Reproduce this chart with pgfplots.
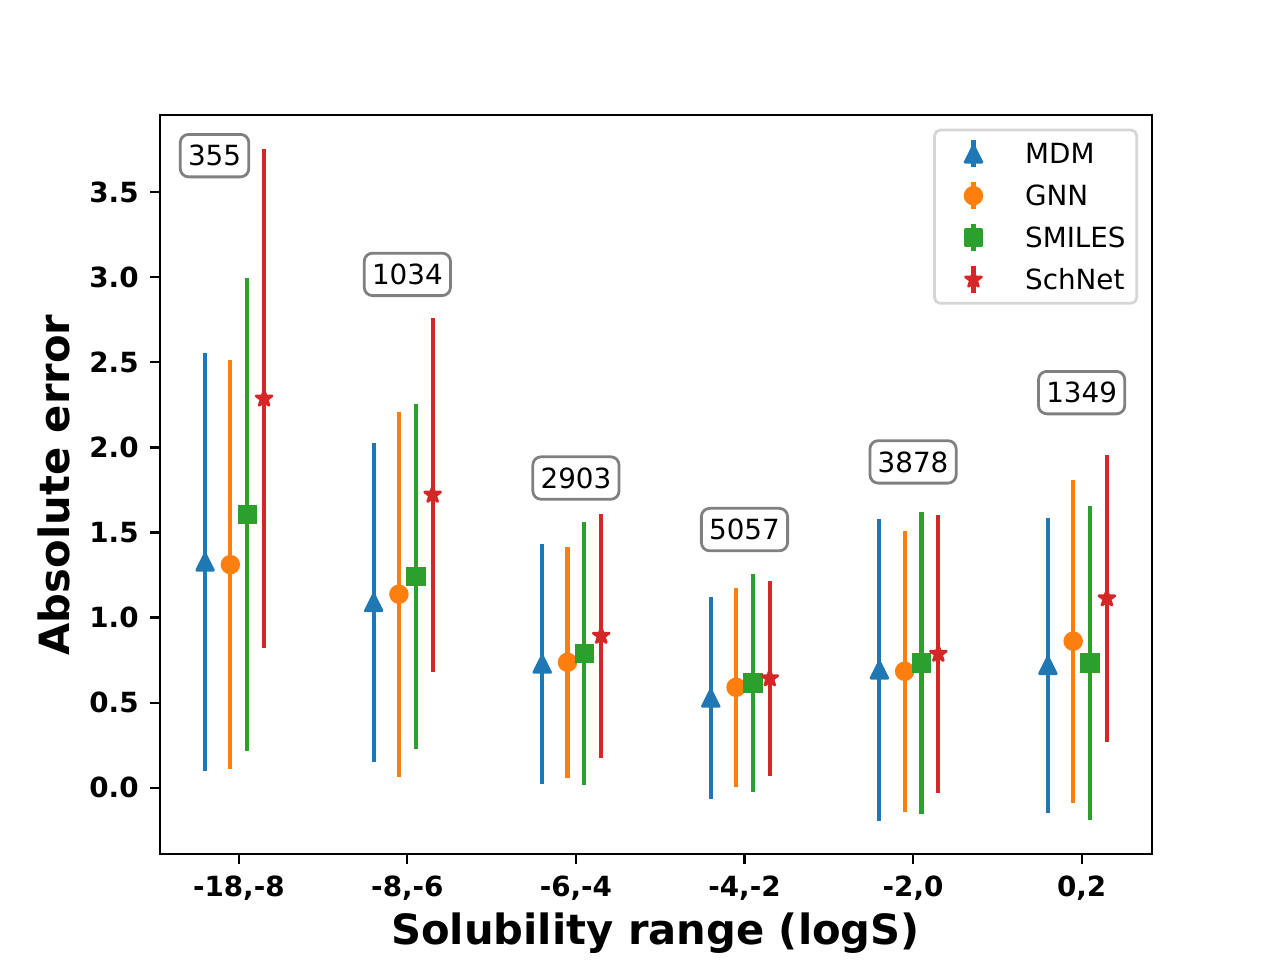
\documentclass[border=0pt]{standalone}
\usepackage{pgfplots}
\pgfplotsset{compat=1.18}
\usepackage{pgfplotstable}
\usepackage{fontspec}
\setmainfont{DejaVu Sans}
\definecolor{c0}{HTML}{1F77B4}
\definecolor{c1}{HTML}{FF7F0E}
\definecolor{c2}{HTML}{2CA02C}
\definecolor{c3}{HTML}{D62728}
\definecolor{lgframe}{HTML}{D6D6D6}
\pgfdeclareplotmark{mtri}{%
  \pgfpathmoveto{\pgfpoint{0pt}{\pgfplotmarksize}}%
  \pgfpathlineto{\pgfpoint{-\pgfplotmarksize}{-\pgfplotmarksize}}%
  \pgfpathlineto{\pgfpoint{\pgfplotmarksize}{-\pgfplotmarksize}}%
  \pgfpathclose\pgfusepathqfillstroke}
\pgfdeclareplotmark{mstar}{%
  \pgfpathmoveto{\pgfpointpolar{90}{\pgfplotmarksize}}%
  \pgfpathlineto{\pgfpointpolar{126}{0.382\pgfplotmarksize}}%
  \pgfpathlineto{\pgfpointpolar{162}{\pgfplotmarksize}}%
  \pgfpathlineto{\pgfpointpolar{198}{0.382\pgfplotmarksize}}%
  \pgfpathlineto{\pgfpointpolar{234}{\pgfplotmarksize}}%
  \pgfpathlineto{\pgfpointpolar{270}{0.382\pgfplotmarksize}}%
  \pgfpathlineto{\pgfpointpolar{306}{\pgfplotmarksize}}%
  \pgfpathlineto{\pgfpointpolar{342}{0.382\pgfplotmarksize}}%
  \pgfpathlineto{\pgfpointpolar{18}{\pgfplotmarksize}}%
  \pgfpathlineto{\pgfpointpolar{54}{0.382\pgfplotmarksize}}%
  \pgfpathclose\pgfusepathqfillstroke}

\pgfplotstableread{
x y e
-0.2 1.327 1.228
0.8 1.089 0.938
1.8 0.727 0.705
2.8 0.527 0.594
3.8 0.693 0.887
4.8 0.719 0.866
}\mdm
\pgfplotstableread{
x y e
-0.05 1.311 1.200
0.95 1.137 1.072
1.95 0.737 0.678
2.95 0.590 0.584
3.95 0.684 0.825
4.95 0.861 0.949
}\gnn
\pgfplotstableread{
x y e
0.05 1.605 1.391
1.05 1.242 1.012
2.05 0.789 0.773
3.05 0.616 0.641
4.05 0.733 0.888
5.05 0.733 0.923
}\smiles
\pgfplotstableread{
x y e
0.15 2.287 1.468
1.15 1.722 1.040
2.15 0.893 0.716
3.15 0.643 0.574
4.15 0.787 0.816
5.15 1.113 0.843
}\schnet

\newcommand{\lgimg}[2]{%
  \path[draw=none, fill=none] (-10pt,-3.645pt) rectangle (10pt,3.645pt);
  \draw[overlay, #1, line width=1.5pt, sharp corners] (0pt,-4.85pt) -- (0pt,4.85pt);
  \draw[overlay, draw=#1, fill=#1, line width=1pt, line join=round, sharp corners, mark=#2, mark size=3pt] plot coordinates {(0pt,0pt)};}

\begin{document}
\begin{tikzpicture}
\useasboundingbox (0,0) rectangle (460.8pt,345.6pt);
\begin{axis}[
  at={(57.6pt,38.16pt)}, anchor=south west,
  width=357.12pt, height=266.11pt, scale only axis,
  xmin=-0.4675, xmax=5.4175, ymin=-0.3898, ymax=3.955,
  xtick={0,1,2,3,4,5},
  xticklabels={{-18,-8},{-8,-6},{-6,-4},{-4,-2},{-2,0},{0,2}},
  ytick={0,0.5,1,1.5,2,2.5,3,3.5},
  /pgf/number format/fixed, /pgf/number format/fixed zerofill,
  /pgf/number format/precision=1, /pgf/number format/assume math mode=true,
  tick align=outside, tick pos=left,
  major tick length=3.5pt,
  tick style={black, line width=0.8pt},
  axis line style={line width=0.8pt},
  ticklabel style={font=\fontsize{10}{12}\selectfont\bfseries, inner sep=0pt},
  xticklabel style={anchor=north, yshift=-4.3pt},
  yticklabel style={anchor=east, xshift=-4pt},
  legend style={at={(1,1)}, anchor=north east, xshift=-5pt, yshift=-5pt,
    draw=lgframe, line width=1pt, rounded corners=2pt, fill=white,
    inner xsep=4pt, inner ysep=4.9pt, row sep=7.8pt, column sep=8.6pt,
    font=\fontsize{10}{12}\selectfont,
    nodes={inner sep=0pt, text height=7.29pt, text depth=0pt}},
  legend cell align=left,
  error bars/y dir=both, error bars/y explicit,
  error bars/error mark=none,
]
\addplot[only marks, c0, mark=mtri, mark size=3pt, mark options={fill=c0, draw=c0, line width=1pt, line join=round},
  error bars/error bar style={line width=1.5pt, c0},
  legend image code/.code={\lgimg{c0}{mtri}}]
  table[x=x, y=y, y error=e]{\mdm};
\addlegendentry{MDM}
\addplot[only marks, c1, mark=*, mark size=3pt, mark options={fill=c1, draw=c1, line width=1pt},
  error bars/error bar style={line width=1.5pt, c1},
  legend image code/.code={\lgimg{c1}{*}}]
  table[x=x, y=y, y error=e]{\gnn};
\addlegendentry{GNN}
\addplot[only marks, c2, mark=square*, mark size=3pt, mark options={fill=c2, draw=c2, line width=1pt},
  error bars/error bar style={line width=1.5pt, c2},
  legend image code/.code={\lgimg{c2}{square*}}]
  table[x=x, y=y, y error=e]{\smiles};
\addlegendentry{SMILES}
\addplot[only marks, c3, mark=mstar, mark size=3pt, mark options={fill=c3, draw=c3, line width=1pt, line join=round},
  error bars/error bar style={line width=1.5pt, c3},
  legend image code/.code={\lgimg{c3}{mstar}}]
  table[x=x, y=y, y error=e]{\schnet};
\addlegendentry{SchNet}

\tikzset{cnt/.style={draw=gray, line width=1pt, rounded corners=3pt, fill=white,
  inner xsep=2.8pt, inner ysep=4pt, text height=7.29pt, text depth=0pt,
  font=\fontsize{10}{12}\selectfont}}
\node[cnt] at (axis cs:-0.144,3.715) {355};
\node[cnt] at (axis cs:1.0,3.017) {1034};
\node[cnt] at (axis cs:2.0,1.820) {2903};
\node[cnt] at (axis cs:3.0,1.517) {5057};
\node[cnt] at (axis cs:4.0,1.915) {3878};
\node[cnt] at (axis cs:5.0,2.322) {1349};
\end{axis}
\node[anchor=base, font=\fontsize{15}{18}\selectfont\bfseries] at (235.97pt,5.4pt) {Solubility range (logS)};
\node[anchor=base, rotate=90, font=\fontsize{15}{18}\selectfont\bfseries] at (24.95pt,171pt) {Absolute error};
\end{tikzpicture}
\end{document}
